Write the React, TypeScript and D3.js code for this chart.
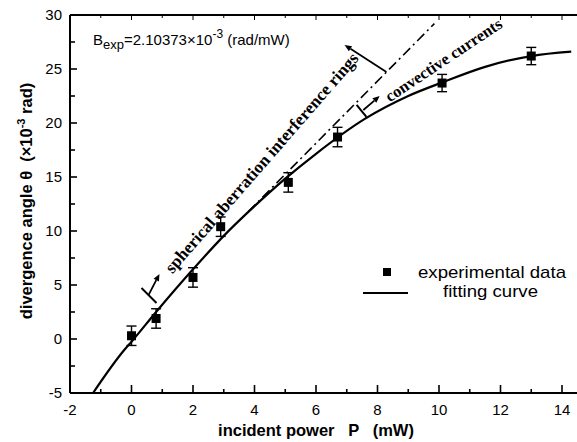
import React from "react";
import * as d3 from "d3";

const W = 577;
const H = 442;

// experimental data
const powerP = [0, 0.8, 2.0, 2.9, 5.1, 6.7, 10.1, 13.0];
const angleTheta = [0.3, 1.9, 5.7, 10.4, 14.5, 18.7, 23.7, 26.2];
const errTheta = [0.9, 0.9, 0.9, 0.9, 0.9, 0.9, 0.8, 0.8];

// fitting curve
const fitP = [-1.25, -0.23, 0, 0.8, 2, 3, 4, 5, 6, 7.6, 9, 10.1, 11.5, 13, 14.3];
const fitTheta = [-5, -1.0, -0.25, 2.5, 6.45, 9.55, 12.3, 14.85, 17.15, 20.4, 22.5, 23.75, 25.2, 26.2, 26.6];

// dash-dot linear line
const linP = [3.8, 9.85];
const linTheta = [11.8, 29.2];

const xTicks = [-2, 0, 2, 4, 6, 8, 10, 12, 14];
const xMinor = [-1, 1, 3, 5, 7, 9, 11, 13];
const yTicks = [-5, 0, 5, 10, 15, 20, 25, 30];
const yMinor = [-2.5, 2.5, 7.5, 12.5, 17.5, 22.5, 27.5];

const legendLabels = ["experimental data", "fitting curve"];
const annotRings = "spherical aberration interference rings";
const annotConv = "convective currents";

export default function App() {
  const x = d3.scaleLinear().domain([-2, 14]).range([70, 562]);
  const y = d3.scaleLinear().domain([-5, 30]).range([393, 15]);
  const sans = "'Liberation Sans', Arial, sans-serif";
  const serif = "'Liberation Serif', 'Times New Roman', serif";

  const fitLine = d3
    .line<number>()
    .x((_, i) => x(fitP[i]))
    .y((d) => y(d))
    .curve(d3.curveMonotoneX);

  const linLine = d3
    .line<number>()
    .x((_, i) => x(linP[i]))
    .y((d) => y(d));

  const arrow = (x1: number, y1: number, x2: number, y2: number, key: string) => {
    const px1 = x(x1), py1 = y(y1), px2 = x(x2), py2 = y(y2);
    const ang = Math.atan2(py2 - py1, px2 - px1);
    const L = 7, Wd = 3;
    const bx = px2 - L * Math.cos(ang), by = py2 - L * Math.sin(ang);
    const p1 = [bx + Wd * Math.sin(ang), by - Wd * Math.cos(ang)];
    const p2 = [bx - Wd * Math.sin(ang), by + Wd * Math.cos(ang)];
    return (
      <g key={key}>
        <line x1={px1} y1={py1} x2={bx} y2={by} stroke="#000" strokeWidth={1.8} />
        <polygon points={`${px2},${py2} ${p1[0]},${p1[1]} ${p2[0]},${p2[1]}`} fill="#000" />
      </g>
    );
  };

  const seg = (x1: number, y1: number, x2: number, y2: number, key: string) => (
    <line key={key} x1={x(x1)} y1={y(y1)} x2={x(x2)} y2={y(y2)} stroke="#000" strokeWidth={2} />
  );

  return (
    <svg width={W} height={H} style={{ position: "absolute", left: 0, top: 0, background: "#fff" }}>
      <rect width={W} height={H} fill="#fff" />
      {/* frame */}
      <line x1={x(-2)} y1={y(-5)} x2={W} y2={y(-5)} stroke="#000" strokeWidth={2} />
      <line x1={x(-2)} y1={y(30)} x2={W} y2={y(30)} stroke="#000" strokeWidth={2} />
      <line x1={x(-2)} y1={y(-5)} x2={x(-2)} y2={y(30)} stroke="#000" strokeWidth={2} />
      {/* x ticks */}
      {xTicks.map((t) => (
        <g key={"xt" + t}>
          <line x1={x(t)} x2={x(t)} y1={y(-5)} y2={y(-5) - 8} stroke="#000" strokeWidth={1.6} />
          <line x1={x(t)} x2={x(t)} y1={y(30)} y2={y(30) + 5} stroke="#000" strokeWidth={1} />
          <text x={x(t)} y={415} textAnchor="middle" fontFamily={sans} fontSize={15}>
            {t}
          </text>
        </g>
      ))}
      {xMinor.map((t) => (
        <g key={"xm" + t}>
          <line x1={x(t)} x2={x(t)} y1={y(-5)} y2={y(-5) - 4} stroke="#000" strokeWidth={1.6} />
          <line x1={x(t)} x2={x(t)} y1={y(30)} y2={y(30) + 3} stroke="#000" strokeWidth={1} />
        </g>
      ))}
      {/* y ticks */}
      {yTicks.map((t) => (
        <g key={"yt" + t}>
          <line x1={x(-2)} x2={x(-2) + 7} y1={y(t)} y2={y(t)} stroke="#000" strokeWidth={1.6} />
          <text x={62} y={y(t) + 5} textAnchor="end" fontFamily={sans} fontSize={15}>
            {t}
          </text>
        </g>
      ))}
      {yMinor.map((t) => (
        <line key={"ym" + t} x1={x(-2)} x2={x(-2) + 5} y1={y(t)} y2={y(t)} stroke="#000" strokeWidth={1.6} />
      ))}
      {/* axis labels */}
      <text x={316} y={436} textAnchor="middle" fontFamily={sans} fontSize={16.5} fontWeight="bold" xmlSpace="preserve">
        incident power   P   (mW)
      </text>
      <text
        transform={`translate(32,201) rotate(-90)`}
        textAnchor="middle"
        fontFamily={sans}
        fontSize={16.5}
        fontWeight="bold"
        xmlSpace="preserve"
      >
        divergence angle θ  (×10<tspan dy={-7} fontSize={11}>-3</tspan>
        <tspan dy={7}> rad)</tspan>
      </text>
      {/* B_exp */}
      <text x={93} y={45} fontFamily={sans} fontSize={15}>
        B<tspan dy={4} fontSize={13}>exp</tspan>
        <tspan dy={-4}>=2.10373×10</tspan>
        <tspan dy={-7} fontSize={12}>-3</tspan>
        <tspan dy={7}> (rad/mW)</tspan>
      </text>
      {/* dash-dot line */}
      <path d={linLine(linTheta) || ""} fill="none" stroke="#000" strokeWidth={1.6} strokeDasharray="10,4,2,4" />
      {/* fitting curve */}
      <path d={fitLine(fitTheta) || ""} fill="none" stroke="#000" strokeWidth={2.2} />
      {/* data */}
      {powerP.map((p, i) => {
        const cx = x(p), cy = y(angleTheta[i]);
        const y1 = y(angleTheta[i] + errTheta[i]), y2 = y(angleTheta[i] - errTheta[i]);
        return (
          <g key={"d" + i}>
            <line x1={cx} x2={cx} y1={y1} y2={y2} stroke="#000" strokeWidth={1.4} />
            <line x1={cx - 5} x2={cx + 5} y1={y1} y2={y1} stroke="#000" strokeWidth={1.4} />
            <line x1={cx - 5} x2={cx + 5} y1={y2} y2={y2} stroke="#000" strokeWidth={1.4} />
            <rect x={cx - 4.5} y={cy - 4.5} width={9} height={9} fill="#000" />
          </g>
        );
      })}
      {/* annotations */}
      {seg(0.325, 4.72, 0.813, 3.33, "s1")}
      {arrow(0.553, 4.07, 0.91, 6.02, "a1")}
      {arrow(8.29, 24.72, 6.93, 27.22, "a2")}
      {seg(7.32, 21.67, 7.64, 20.56, "s3")}
      {arrow(7.54, 21.2, 8.07, 22.5, "a3")}
      <text
        transform={`translate(${x(1.33)},${y(6.0)}) rotate(-49)`}
        fontFamily={serif}
        fontSize={17.3}
        fontWeight="bold"
      >
        {annotRings}
      </text>
      <text
        transform={`translate(${x(8.4)},${y(21.9)}) rotate(-33.7)`}
        fontFamily={serif}
        fontSize={16.5}
        fontWeight="bold"
      >
        {annotConv}
      </text>
      {/* legend */}
      <rect x={383} y={268} width={8} height={8} fill="#000" />
      <text x={418} y={278} fontFamily={sans} fontSize={17} textLength={148} lengthAdjust="spacingAndGlyphs">
        {legendLabels[0]}
      </text>
      <line x1={363} x2={408} y1={293} y2={293} stroke="#000" strokeWidth={2} />
      <text x={443} y={297} fontFamily={sans} fontSize={17} textLength={95} lengthAdjust="spacingAndGlyphs">
        {legendLabels[1]}
      </text>
    </svg>
  );
}
